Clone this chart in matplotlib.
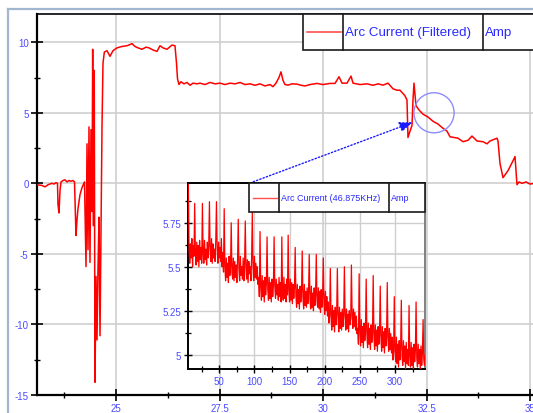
import numpy as np
import matplotlib
matplotlib.use('Agg')
import matplotlib.pyplot as plt
from matplotlib.patches import Rectangle, Ellipse
from matplotlib.lines import Line2D
from matplotlib.ticker import FixedLocator

plt.rcParams['font.family'] = ['Liberation Sans', 'DejaVu Sans']

# ---------------- data ----------------
main_t = [23.090, 23.211, 23.283, 23.356, 23.404, 23.452, 23.501, 23.549, 23.585, 23.597,
          23.621, 23.646, 23.670, 23.718, 23.766, 23.815, 23.863, 23.911, 23.960, 23.996,
          24.020, 24.032, 24.056, 24.080, 24.129, 24.177, 24.237, 24.274, 24.298, 24.322,
          24.346, 24.370, 24.394, 24.419, 24.435, 24.455, 24.472, 24.491, 24.515, 24.539,
          24.563, 24.588, 24.612, 24.636, 24.660, 24.684, 24.716, 24.781, 24.853, 24.926,
          25.022, 25.143, 25.264, 25.385, 25.457, 25.530, 25.626, 25.723, 25.795, 25.892,
          25.989, 26.061, 26.133, 26.230, 26.351, 26.423, 26.460, 26.484, 26.520, 26.568,
          26.641, 26.713, 26.786, 26.858, 26.955, 27.027, 27.148, 27.269, 27.390, 27.510,
          27.631, 27.752, 27.873, 27.993, 28.114, 28.235, 28.356, 28.476, 28.597, 28.718,
          28.790, 28.863, 28.935, 28.984, 29.032, 29.080, 29.153, 29.249, 29.370, 29.467,
          29.563, 29.684, 29.853, 29.998, 30.167, 30.288, 30.385, 30.457, 30.578, 30.675,
          30.723, 30.892, 31.061, 31.206, 31.327, 31.447, 31.568, 31.689, 31.786, 31.858,
          31.979, 32.027, 32.051, 32.100, 32.148, 32.172, 32.196, 32.245, 32.317, 32.414,
          32.534, 32.655, 32.776, 32.897, 32.993, 33.066, 33.259, 33.380, 33.501, 33.597,
          33.718, 33.863, 33.960, 34.032, 34.201, 34.225, 34.274, 34.346, 34.467, 34.588,
          34.636, 34.684, 34.733, 34.805, 34.902, 34.998, 35.119]
main_amp = [-0.10, -0.15, -0.25, -0.10, -0.05, 0.00, -0.05, 0.05, 0.00, -1.50,
            -2.10, -0.50, 0.10, 0.20, 0.25, 0.10, 0.20, 0.15, 0.20, 0.10,
            -2.50, -3.70, -2.60, -1.80, -0.80, -0.30, 0.10, -5.90, 2.80, -4.70,
            4.00, -5.60, 3.80, -2.00, 9.50, -3.00, 8.00, -14.10, -6.60, -11.10,
            -6.10, -2.40, -10.80, -3.00, 4.00, 8.50, 9.30, 9.40, 9.00, 9.40,
            9.60, 9.70, 9.75, 9.90, 9.70, 9.60, 9.50, 9.65, 9.60, 9.45,
            9.35, 9.75, 9.60, 9.50, 9.80, 9.75, 8.50, 7.40, 7.00, 7.20,
            7.05, 7.15, 6.95, 7.10, 7.05, 7.10, 7.00, 7.15, 7.05, 7.10,
            7.00, 7.10, 7.05, 7.15, 7.00, 7.05, 6.95, 7.05, 6.90, 7.00,
            6.85, 7.10, 7.50, 7.90, 7.30, 7.00, 6.96, 7.05, 7.03, 6.95,
            6.90, 7.00, 7.08, 7.00, 7.08, 7.08, 7.55, 7.10, 7.10, 7.60,
            7.10, 7.00, 7.05, 6.95, 7.05, 6.96, 7.10, 6.70, 6.60, 6.60,
            6.20, 5.90, 3.25, 3.70, 4.10, 5.90, 7.10, 5.50, 5.20, 4.90,
            4.70, 4.40, 4.20, 3.90, 3.70, 3.30, 3.20, 2.95, 3.05, 3.35,
            3.00, 2.95, 2.80, 3.00, 3.20, 3.00, 1.40, 0.40, 0.90, 1.60,
            1.90, -0.10, 0.10, 0.00, 0.10, -0.05, 0.00]
main_xticks = [25, 27.5, 30, 32.5, 35]
main_xticklabels = ['25', '27.5', '30', '32.5', '35']
main_yticks = [-15, -10, -5, 0, 5, 10]
main_yticklabels = ['-15', '-10', '-5', '0', '5', '10']

inset_first_sample = 5
inset_amp = [
    5.95, 5.97, 5.60, 5.52, 5.63, 5.55, 5.66, 5.50, 5.62, 5.56,
    5.86, 5.58, 5.51, 5.64, 5.53, 5.62, 5.50, 5.65, 5.54, 5.61, 5.52,
    5.86, 5.57, 5.52, 5.65, 5.54, 5.60, 5.51, 5.64, 5.55, 5.62,
    5.87, 5.59, 5.53, 5.66, 5.52, 5.63, 5.55, 5.60, 5.53, 5.65,
    5.87, 5.60, 5.52, 5.64, 5.55, 5.61, 5.53, 5.66, 5.50, 5.58, 5.47,
    5.83, 5.50, 5.42, 5.55, 5.44, 5.52, 5.41, 5.56, 5.45, 5.50,
    5.75, 5.47, 5.43, 5.55, 5.42, 5.53, 5.44, 5.51, 5.41, 5.54,
    5.77, 5.48, 5.42, 5.56, 5.45, 5.50, 5.43, 5.55, 5.42, 5.52,
    5.76, 5.49, 5.43, 5.54, 5.41, 5.53, 5.46, 5.50, 5.42, 5.55,
    5.81, 5.50, 5.42, 5.56, 5.44, 5.52, 5.43, 5.50, 5.40, 5.44, 5.33,
    5.70, 5.38, 5.31, 5.45, 5.33, 5.42, 5.30, 5.44, 5.34, 5.40,
    5.67, 5.37, 5.31, 5.44, 5.32, 5.41, 5.30, 5.43, 5.33, 5.39,
    5.67, 5.39, 5.32, 5.43, 5.34, 5.40, 5.31, 5.44, 5.33, 5.41, 5.30,
    5.67, 5.36, 5.31, 5.44, 5.32, 5.40, 5.30, 5.43, 5.34,
    5.68, 5.37, 5.30, 5.43, 5.31, 5.41, 5.29, 5.40, 5.32, 5.38,
    5.61, 5.34, 5.27, 5.40, 5.29, 5.37, 5.26, 5.39, 5.30, 5.36,
    5.59, 5.33, 5.26, 5.40, 5.28, 5.36, 5.27, 5.38, 5.29, 5.35,
    5.57, 5.32, 5.26, 5.39, 5.27, 5.35, 5.25, 5.38, 5.28, 5.34,
    5.57, 5.31, 5.27, 5.38, 5.26, 5.36, 5.24, 5.37, 5.27, 5.33,
    5.55, 5.30, 5.23, 5.36, 5.25, 5.33, 5.22, 5.30, 5.18, 5.22,
    5.49, 5.22, 5.14, 5.28, 5.16, 5.25, 5.13, 5.27, 5.17, 5.23,
    5.49, 5.21, 5.13, 5.27, 5.15, 5.24, 5.14, 5.26, 5.16, 5.22,
    5.50, 5.22, 5.14, 5.26, 5.15, 5.23, 5.13, 5.25, 5.17, 5.21,
    5.51, 5.23, 5.15, 5.26, 5.16, 5.24, 5.14, 5.22, 5.12, 5.15, 5.06,
    5.46, 5.14, 5.05, 5.20, 5.07, 5.16, 5.04, 5.18, 5.08, 5.13,
    5.43, 5.12, 5.04, 5.18, 5.06, 5.15, 5.03, 5.17, 5.07, 5.12,
    5.45, 5.11, 5.03, 5.17, 5.05, 5.14, 5.02, 5.16, 5.06, 5.11,
    5.39, 5.10, 5.02, 5.16, 5.04, 5.13, 5.01, 5.15, 5.05, 5.10,
    5.41, 5.09, 5.02, 5.15, 5.03, 5.12, 5.01, 5.10, 4.97, 5.02,
    5.33, 5.02, 4.96, 5.10, 4.95, 5.06, 4.93, 5.08, 4.97, 5.04,
    5.31, 5.00, 4.94, 5.08, 4.96, 5.05, 4.92, 5.07, 4.95, 5.03, 4.94,
    5.28, 4.99, 4.93, 5.07, 4.94, 5.04, 4.92, 5.06, 4.96, 5.02,
    5.30, 4.98, 4.93, 5.06, 4.95, 5.03, 4.92, 5.05, 4.94, 5.01,
    5.20, 4.97, 4.94, 5.00,
]
inset_xticks = [50, 100, 150, 200, 250, 300]
inset_yticks = [5, 5.25, 5.5, 5.75]
inset_yticklabels = ['5', '5.25', '5.5', '5.75']

main_label = 'Arc Current (Filtered)'
inset_label = 'Arc Current (46.875KHz)'
unit_label = 'Amp'

# ---------------- styling ----------------
W, H = 533, 414
LABEL_BLUE = '#4b4bff'
TEXT_BLUE = '#2a2aff'
GRID = '#cfcfcf'


def fx(px):
    return px / W


def fy(py):
    return 1 - py / H


fig = plt.figure(figsize=(W / 100, H / 100), dpi=100)
fig.patch.set_facecolor('white')

# main axes
ax = fig.add_axes([fx(37), fy(396), fx(545) - fx(37), fy(15) - fy(396)])
ax.set_facecolor('white')
ax.plot(main_t, main_amp, color='#ff0000', lw=1.1, zorder=3)
ax.set_xlim(23.09, 23.09 + 508 / 41.4)
ax.set_ylim(-15, 12)
ax.set_xticks(main_xticks)
ax.set_xticklabels(main_xticklabels)
ax.set_yticks(main_yticks)
ax.set_yticklabels(main_yticklabels)
ax.xaxis.set_minor_locator(FixedLocator([23.75, 26.25, 28.75, 31.25, 33.75]))
ax.yaxis.set_minor_locator(FixedLocator([-12.5, -7.5, -2.5, 2.5, 7.5]))
ax.grid(True, which='major', color=GRID, lw=1.2)
ax.set_axisbelow(True)
for s in ['left', 'bottom']:
    ax.spines[s].set_linewidth(1.6)
ax.spines['top'].set_linewidth(1.2)
ax.spines['right'].set_visible(False)
ax.tick_params(which='major', direction='inout', length=8, width=1.2,
               labelcolor=LABEL_BLUE, labelsize=7, pad=2)
ax.tick_params(which='minor', direction='inout', length=5, width=1.0)

# highlight circle
ax.add_patch(Ellipse((32.68, 5.0), 0.97, 2.84, fill=False,
                     edgecolor='#8c8cff', lw=1.0, zorder=4))

# inset axes
axi = fig.add_axes([fx(188), fy(370), fx(425) - fx(188), fy(184) - fy(370)])
axi.patch.set_alpha(0)
samples = np.arange(inset_first_sample, inset_first_sample + len(inset_amp))
axi.plot(samples, inset_amp, color='#ff0000', lw=0.9, zorder=3)
axi.set_xlim(5.5, 342.7)
axi.set_ylim(4.919, 5.976)
axi.set_xticks(inset_xticks)
axi.set_yticks(inset_yticks)
axi.set_yticklabels(inset_yticklabels)
axi.xaxis.set_minor_locator(FixedLocator([25, 75, 125, 175, 225, 275, 325]))
axi.yaxis.set_minor_locator(FixedLocator([5.125, 5.375, 5.625, 5.875]))
axi.grid(True, which='major', color=GRID, lw=1.0)
axi.set_axisbelow(True)
for s in ['left', 'bottom', 'top']:
    axi.spines[s].set_linewidth(1.4)
axi.spines['right'].set_color('#808080')
axi.spines['right'].set_linewidth(1.4)
axi.tick_params(which='major', direction='inout', length=6, width=1.0,
                labelcolor=LABEL_BLUE, labelsize=7, pad=2)
axi.tick_params(which='minor', direction='inout', length=4, width=0.9)

# outer frame
frame_c = '#a3b6cf'
fig.add_artist(Line2D([fx(8), fx(8)], [fy(10), fy(414)], transform=fig.transFigure,
                      color=frame_c, lw=1.6, zorder=1))
fig.add_artist(Line2D([fx(8), fx(533)], [fy(10), fy(10)], transform=fig.transFigure,
                      color=frame_c, lw=1.6, zorder=1))


def legend_box(x0, x1, y0, y1, d1, d2, label, tx, ux, size, lw_line):
    fig.add_artist(Rectangle((fx(x0), fy(y1)), fx(x1) - fx(x0), fy(y0) - fy(y1),
                             transform=fig.transFigure, facecolor='white',
                             edgecolor='#1a1a1a', lw=1.2, zorder=6))
    for d in (d1, d2):
        fig.add_artist(Line2D([fx(d), fx(d)], [fy(y0), fy(y1)], transform=fig.transFigure,
                              color='#1a1a1a', lw=1.2, zorder=7))
    ym = (y0 + y1) / 2
    fig.add_artist(Line2D([fx(x0 + 4), fx(d1 - 2)], [fy(ym), fy(ym)],
                          transform=fig.transFigure, color='#ff5050', lw=lw_line, zorder=7))
    fig.text(fx(tx), fy(ym), label, color=TEXT_BLUE, fontsize=size,
             ha='left', va='center', zorder=8)
    fig.text(fx(ux), fy(ym), unit_label, color=TEXT_BLUE, fontsize=size,
             ha='left', va='center', zorder=8)


legend_box(303, 560, 15, 51, 343, 483, main_label, 345, 485, 9.6, 1.2)
legend_box(249, 425, 184, 213, 279, 389, inset_label, 281, 391, 6.5, 1.0)

# dotted arrow from inset legend to the zoomed region
ax.annotate('', xy=(32.17, 4.33), xycoords='data',
            xytext=(fx(250), fy(184)), textcoords='figure fraction',
            arrowprops=dict(arrowstyle='-|>,head_length=0.8,head_width=0.3',
                            linestyle=(0, (1, 1.5)), color='#1a1aff', lw=1.0,
                            shrinkA=0, shrinkB=0),
            annotation_clip=False, zorder=9)

fig.savefig('out.png', dpi=100)
